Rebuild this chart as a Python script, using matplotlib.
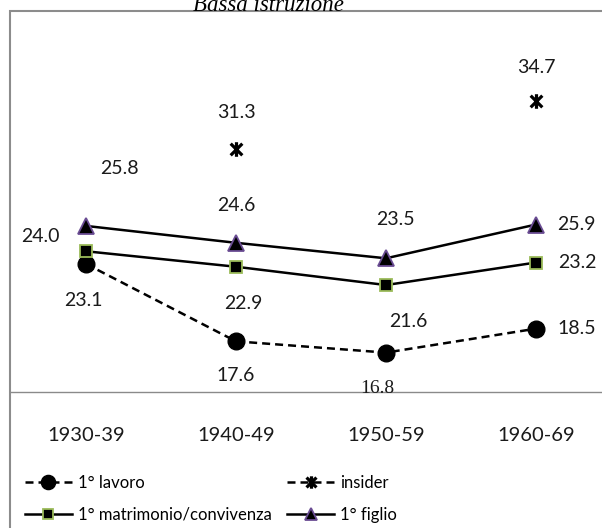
import numpy as np
import matplotlib
matplotlib.use("Agg")
import matplotlib.pyplot as plt
from matplotlib.path import Path
from matplotlib.patches import Rectangle

# age at first event by birth cohort, low education
coorti = ["1930-39", "1940-49", "1950-59", "1960-69"]
lavoro = [23.1, 17.6, 16.8, 18.5]
insider = [np.nan, 31.3, np.nan, 34.7]
matrimonio = [24.0, 22.9, 21.6, 23.2]
figlio = [25.8, 24.6, 23.5, 25.9]

# label offsets in pixels (dx, dy up) from each point
off_lavoro = [(-3, -37), (0, -34), (-9, -36), (41, 0)]
off_insider = [(0, 0), (0, 36), (0, 0), (0, 33)]
off_matrimonio = [(-46, 15), (7, -37), (22, -36), (41, 0)]
off_figlio = [(33, 57), (0, 37), (9, 39), (40, 0)]

sans = ["Lato", "DejaVu Sans"]

W, H = 602, 528
fig = plt.figure(figsize=(W / 100, H / 100), dpi=100)

# chart frame (runs off the right and bottom edges)
fig.add_artist(Rectangle((10 / W, -0.1), 1.0, 1 - 11.5 / H + 0.1,
                         transform=fig.transFigure, fill=False,
                         edgecolor="#8c8c8c", linewidth=1.5))

fig.text(268 / W, 1 - 11 / H, "Bassa istruzione", ha="center", va="baseline",
         fontsize=16.5, style="italic", family="Liberation Serif")

ax = fig.add_axes([11 / W, (H - 392) / H, 600 / W, (392 - 12) / H])
x = np.arange(len(coorti))
ax.set_xlim(-0.5, 3.5)
ax.set_ylim(14, 41)

star = Path([(-1, -1), (1, 1), (-1, 1), (1, -1), (0, -1.25), (0, 1.25)],
            [Path.MOVETO, Path.LINETO] * 3)

l1, = ax.plot(x, lavoro, color="black", lw=1.8, dashes=(3.2, 2),
              marker="o", ms=12, label="1° lavoro")
l2, = ax.plot(x, insider, color="black", lw=1.8, dashes=(3.2, 2),
              marker=star, ms=10.5, mew=2.3, label="insider")
l3, = ax.plot(x, matrimonio, color="black", lw=1.8, marker="s", ms=8.5,
              mfc="black", mec="#9bbb59", mew=1.3, label="1° matrimonio/convivenza")
l4, = ax.plot(x, figlio, color="black", lw=1.8, marker="^", ms=11,
              mfc="black", mec="#6a4c93", mew=1.3, label="1° figlio")

for vals, offs in [(lavoro, off_lavoro), (insider, off_insider),
                   (matrimonio, off_matrimonio), (figlio, off_figlio)]:
    for xi, v, (dx, dy) in zip(x, vals, offs):
        if np.isnan(v):
            continue
        fam = sans
        if v == 16.8:
            fam = ["Liberation Serif"]
        ax.annotate(f"{v:.1f}", (xi, v), xytext=(dx, dy), textcoords="offset pixels",
                    ha="center", va="center", fontsize=14, family=fam, color="#1a1a1a")

for s in ["left", "right", "top"]:
    ax.spines[s].set_visible(False)
ax.spines["bottom"].set_color("#8a8a8a")
ax.spines["bottom"].set_linewidth(1.0)
ax.set_yticks([])
ax.set_xticks(x)
ax.set_xticklabels(coorti, fontsize=14.5, family=sans, color="#1a1a1a")
ax.tick_params(axis="x", length=0, pad=25)

fig.legend(handles=[l1, l3, l2, l4], loc="upper left",
           bbox_to_anchor=(25 / W, 1 - 475 / H), ncol=2, frameon=False,
           borderpad=0, borderaxespad=0, prop={"family": sans, "size": 12},
           handlelength=2.8, handletextpad=0.36, columnspacing=0.95,
           labelspacing=0.95, markerscale=0.85)

fig.savefig("out.png", dpi=100)
